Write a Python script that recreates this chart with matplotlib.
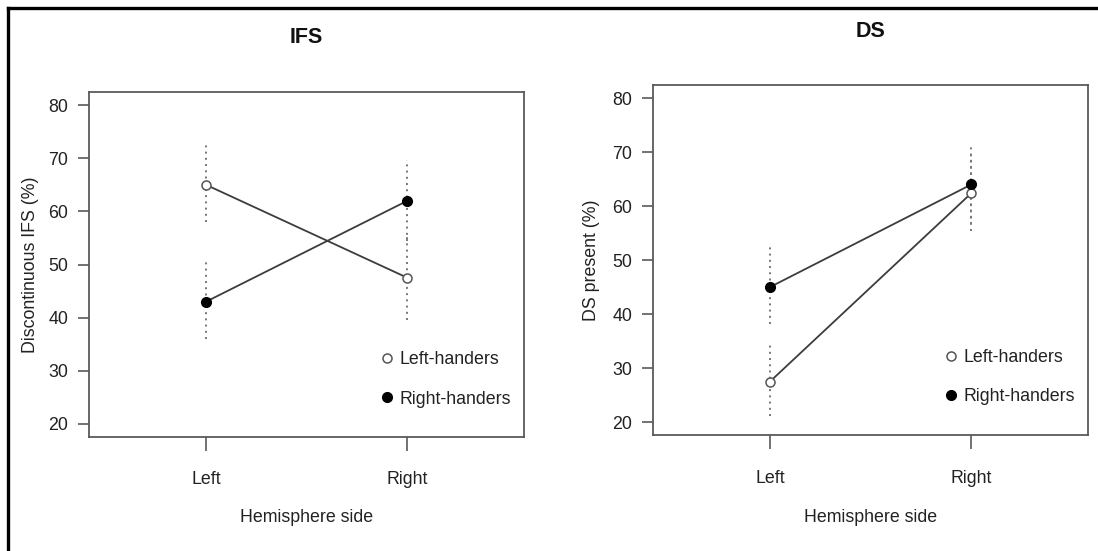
import matplotlib
matplotlib.use('Agg')
import matplotlib.pyplot as plt
from matplotlib.lines import Line2D

plt.rcParams['font.family'] = ['Liberation Sans', 'DejaVu Sans']

hemis = ['Left', 'Right']
x_pos = [1, 2]

# IFS panel
ifs_lh = [65.0, 47.5]
ifs_lh_lo = [58.0, 39.6]
ifs_lh_hi = [72.6, 55.4]
ifs_rh = [43.0, 62.0]
ifs_rh_lo = [36.0, 54.4]
ifs_rh_hi = [50.8, 69.6]

# DS panel
ds_lh = [27.5, 62.4]
ds_lh_lo = [21.2, 55.4]
ds_lh_hi = [34.7, 69.4]
ds_rh = [45.0, 64.0]
ds_rh_lo = [38.2, 56.6]
ds_rh_hi = [52.8, 71.5]

LINE = '#3c3c3c'
AX = '#5a5a5a'
FS = 12.8

fig = plt.figure(figsize=(10.98, 5.51), dpi=100)
fig.patch.set_facecolor('white')

ax1 = fig.add_axes([0.0813, 0.2076, 0.3961, 0.6247])
ax2 = fig.add_axes([0.5947, 0.2102, 0.3964, 0.6354])


def panel(ax, title, ylabel, lh, lh_lo, lh_hi, rh, rh_lo, rh_hi, title_y, ylab_x):
    ax.vlines(x_pos, lh_lo, lh_hi, colors='#777777', linestyles=(0, (1.0, 2.2)), linewidth=1.4, zorder=1)
    ax.vlines(x_pos, rh_lo, rh_hi, colors='#777777', linestyles=(0, (1.0, 2.2)), linewidth=1.4, zorder=1)
    ax.plot(x_pos, lh, color=LINE, linewidth=1.3, zorder=2)
    ax.plot(x_pos, rh, color=LINE, linewidth=1.3, zorder=2)
    ax.plot(x_pos, lh, linestyle='none', marker='o', markersize=6.5, markerfacecolor='white',
            markeredgecolor='#555555', markeredgewidth=1.1, zorder=3, label='Left-handers')
    ax.plot(x_pos, rh, linestyle='none', marker='o', markersize=7, markerfacecolor='black',
            markeredgecolor='black', zorder=3, label='Right-handers')

    ax.set_xlim(0.42, 2.58)
    ax.set_ylim(17.6, 82.4)
    ax.set_xticks(x_pos)
    ax.set_xticklabels(hemis)
    ax.set_yticks([20, 30, 40, 50, 60, 70, 80])
    ax.tick_params(axis='x', length=10, width=1.2, color=AX, pad=15, labelsize=FS, labelcolor='#222222')
    ax.tick_params(axis='y', length=8, width=1.2, color=AX, pad=7, labelsize=FS, labelcolor='#222222')
    for s in ax.spines.values():
        s.set_color(AX)
        s.set_linewidth(1.3)

    ax.set_ylabel(ylabel, fontsize=FS, color='#222222', va='center')
    ax.yaxis.set_label_coords(ylab_x, 0.5)
    ax.set_xlabel('Hemisphere side', fontsize=FS, color='#222222', va='center')
    ax.xaxis.set_label_coords(0.5, -0.235)
    ax.text(0.5, title_y, title, transform=ax.transAxes, ha='center', va='center',
            fontsize=15.5, fontweight='bold', color='#111111')

    ax.legend(loc='center left', bbox_to_anchor=(0.668, 0.166), frameon=False, fontsize=FS,
              handlelength=0.8, handletextpad=0.3, labelspacing=1.25, borderpad=0, borderaxespad=0,
              labelcolor='#222222')


panel(ax1, 'IFS', 'Discontinuous IFS (%)', ifs_lh, ifs_lh_lo, ifs_lh_hi, ifs_rh, ifs_rh_lo, ifs_rh_hi,
      1.16, -0.136)
panel(ax2, 'DS', 'DS present (%)', ds_lh, ds_lh_lo, ds_lh_hi, ds_rh, ds_rh_lo, ds_rh_hi,
      1.153, -0.142)

# outer frame (top and left edges)
W, H = 1098, 551
fig.add_artist(Line2D([7.5 / W, 1.0], [1 - 7.5 / H, 1 - 7.5 / H], color='black', linewidth=2.4))
fig.add_artist(Line2D([7.5 / W, 7.5 / W], [1 - 7.5 / H, 0.0], color='black', linewidth=2.4))

fig.savefig('out.png', dpi=100)
